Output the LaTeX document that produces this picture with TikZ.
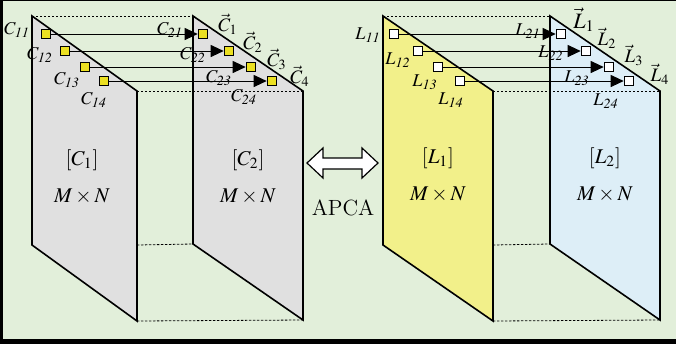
\documentclass[tikz,border=0pt]{standalone}
\usepackage{mathptmx}
\usetikzlibrary{arrows.meta,positioning,calc}
\definecolor{bggreen}{RGB}{226,239,218}
\definecolor{panelgrey}{RGB}{224,224,224}
\definecolor{panelyellow}{RGB}{242,240,138}
\definecolor{panelblue}{RGB}{221,238,247}
\definecolor{sqyellow}{RGB}{236,224,34}

\begin{document}
\begin{tikzpicture}[
    x=0.5pt, y=-0.5pt,
    panel/.style = {draw, line width=0.8pt, line join=miter},
    hidden/.style = {line width=0.4pt, dash pattern=on 1.2pt off 0.8pt},
    sq/.style = {rectangle, draw, line width=0.4pt, minimum size=4.5pt, inner sep=0pt},
    arr/.style = {line width=0.5pt, -{Triangle[length=6.5pt, width=6pt]}, shorten >=0.2pt},
    lbl/.style = {inner sep=0pt, font=\fontsize{9}{10}\selectfont},
    vlbl/.style = {inner sep=0pt, font=\fontsize{9.5}{11}\selectfont},
    mat/.style = {inner sep=0pt, font=\fontsize{10.5}{12}\selectfont}
]
\fill[bggreen] (0,0) rectangle (676,344);
\useasboundingbox (0,0) rectangle (676,344);
\draw[line width=0.5pt] (0,0.5) -- (676,0.5);
\draw[line width=1.5pt] (1.5,0) -- (1.5,344);
\draw[line width=2.5pt] (0,341.5) -- (676,341.5);

% left pair of layers
\draw[panel, fill=panelgrey] (32,16) -- (137,91) -- (137,321) -- (32,245) -- cycle;
\draw[panel, fill=panelgrey] (193,16) -- (303,91) -- (303,320) -- (193,244) -- cycle;
\draw[hidden] (32,16) -- (193,16);
\draw[hidden] (137,91) -- (303,91);
\draw[hidden] (137,245) -- (193,244);
\draw[hidden] (137,321) -- (303,320);

% right pair of layers
\draw[panel, fill=panelyellow] (383,16) -- (493,91) -- (493,321) -- (383,245) -- cycle;
\draw[panel, fill=panelblue] (550,16) -- (660,91) -- (660,320) -- (550,244) -- cycle;
\draw[hidden] (383,16) -- (550,16);
\draw[hidden] (493,91) -- (660,91);
\draw[hidden] (493,245) -- (550,244);
\draw[hidden] (493,321) -- (660,320);

\node[mat] (c1) at (82,160) {$[C_1]$};
\node[mat] (c1size) at (82,197) {$M\times N$};
\node[mat] (c2) at (248,160) {$[C_2]$};
\node[mat] (c2size) at (248,197) {$M\times N$};
\node[mat] (l1) at (438,158) {$[L_1]$};
\node[mat] (l1size) at (438,195) {$M\times N$};
\node[mat] (l2) at (605,158) {$[L_2]$};
\node[mat] (l2size) at (605,195) {$M\times N$};

% pixels of the first pair
\node[sq, fill=sqyellow] (c11) at (46,34) {};
\node[sq, fill=sqyellow] (c12) at (65,51) {};
\node[sq, fill=sqyellow] (c13) at (85,67) {};
\node[sq, fill=sqyellow] (c14) at (104,81) {};
\node[sq, fill=sqyellow] (c21) at (203,34) {};
\node[sq, fill=sqyellow] (c22) at (229,51) {};
\node[sq, fill=sqyellow] (c23) at (251,67) {};
\node[sq, fill=sqyellow] (c24) at (272,81) {};
\draw[arr] (c11.east) -- (c21.west);
\draw[arr] (c12.east) -- (c22.west);
\draw[arr] (c13.east) -- (c23.west);
\draw[arr] (c14.east) -- (c24.west);

\node[lbl] (c11lbl) at (17,30) {$C_{\mathit{11}}$};
\node[lbl] (c12lbl) at (40,55) {$C_{\mathit{12}}$};
\node[lbl] (c13lbl) at (67,80) {$C_{\mathit{13}}$};
\node[lbl] (c14lbl) at (94,100) {$C_{\mathit{14}}$};
\node[lbl] (c21lbl) at (170,30) {$C_{\mathit{21}}$};
\node[lbl] (c22lbl) at (193,55) {$C_{\mathit{22}}$};
\node[lbl] (c23lbl) at (219,78) {$C_{\mathit{23}}$};
\node[lbl] (c24lbl) at (244,97) {$C_{\mathit{24}}$};
\node[vlbl] (vc1) at (228,24) {$\vec{C}_1$};
\node[vlbl] (vc2) at (253,42) {$\vec{C}_2$};
\node[vlbl] (vc3) at (277,59) {$\vec{C}_3$};
\node[vlbl] (vc4) at (300,76) {$\vec{C}_4$};

% pixels of the second pair
\node[sq, fill=white] (l11) at (394,34) {};
\node[sq, fill=white] (l12) at (418,51) {};
\node[sq, fill=white] (l13) at (438,67) {};
\node[sq, fill=white] (l14) at (460,81) {};
\node[sq, fill=white] (l21) at (561,34) {};
\node[sq, fill=white] (l22) at (586,51) {};
\node[sq, fill=white] (l23) at (609,67) {};
\node[sq, fill=white] (l24) at (629,81) {};
\draw[arr] (l11.east) -- (l21.west);
\draw[arr] (l12.east) -- (l22.west);
\draw[arr] (l13.east) -- (l23.west);
\draw[arr] (l14.east) -- (l24.west);

\node[lbl] (l11lbl) at (368,35) {$L_{\mathit{11}}$};
\node[lbl] (l12lbl) at (398,60) {$L_{\mathit{12}}$};
\node[lbl] (l13lbl) at (425,82) {$L_{\mathit{13}}$};
\node[lbl] (l14lbl) at (451,100) {$L_{\mathit{14}}$};
\node[lbl] (l21lbl) at (528,31) {$L_{\mathit{21}}$};
\node[lbl] (l22lbl) at (551,53) {$L_{\mathit{22}}$};
\node[lbl] (l23lbl) at (577,78) {$L_{\mathit{23}}$};
\node[lbl] (l24lbl) at (606,101) {$L_{\mathit{24}}$};
\node[vlbl, font=\fontsize{11}{12}\selectfont] (vl1) at (584,20) {$\vec{L}_1$};
\node[vlbl] (vl2) at (607,38) {$\vec{L}_2$};
\node[vlbl] (vl3) at (634,55) {$\vec{L}_3$};
\node[vlbl] (vl4) at (660,74) {$\vec{L}_4$};

% transform between the pairs
\draw[line width=0.6pt, fill=white, line join=miter]
    (307,163) -- (323,148) -- (323,158) -- (362,158) -- (362,148) -- (378,163)
    -- (362,178) -- (362,169) -- (323,169) -- (323,178) -- cycle;
\node[inner sep=0pt, font=\fontsize{11}{12}\selectfont] (apca) at (343,208) {APCA};
\end{tikzpicture}
\end{document}
